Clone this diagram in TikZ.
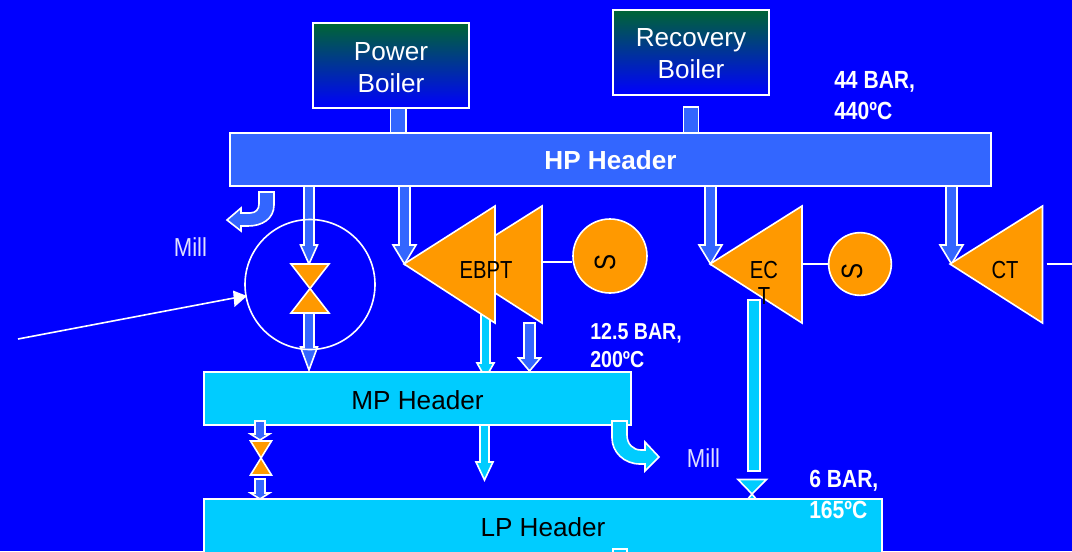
\documentclass[tikz,border=0pt]{standalone}
\usepackage{fontspec}
\setmainfont{Liberation Sans}
\newfontfamily\narrowbold[FakeStretch=0.85]{Liberation Sans Bold}
\newfontfamily\narrowreg[FakeStretch=0.85]{Liberation Sans}
\newfontfamily\turbfont[FakeStretch=0.82]{Liberation Sans}
\definecolor{bgblue}{HTML}{0000FF}
\definecolor{hpblue}{HTML}{3366FF}
\definecolor{mpcyan}{HTML}{00CCFF}
\definecolor{orangeF}{HTML}{FF9900}
\definecolor{boilgreen}{HTML}{006633}
\tikzset{
  wl/.style={draw=white,line width=1.2pt,line join=miter},
  headerbox/.style={draw=white,line width=1.5pt,rectangle,inner sep=0pt,font=\fontsize{19.6}{24}\selectfont,text=black},
  boilerbox/.style={draw=white,line width=1.5pt,rectangle,inner sep=0pt,align=center,top color=boilgreen,bottom color=bgblue,
     text=white,font=\fontsize{19.6}{24}\selectfont,minimum height=63.75pt},
  hpfill/.style={wl,fill=hpblue},
  mpfill/.style={wl,fill=mpcyan},
  valve/.style={wl,fill=orangeF},
  turb/.style={wl,fill=orangeF},
  gencircle/.style={wl,circle,fill=orangeF,inner sep=0pt},
  genletter/.style={text=black,inner sep=0pt,font=\turbfont\fontsize{22}{24}\selectfont},
  turblabel/.style={text=black,inner sep=0pt,font=\turbfont\fontsize{18.5}{19}\selectfont,align=center},
  condlabel/.style={text=white,inner sep=0pt,anchor=base west,font=\narrowbold\fontsize{18.6}{23}\selectfont},
  condsmall/.style={text=white,inner sep=0pt,anchor=base west,font=\narrowbold\fontsize{17.3}{23}\selectfont},
  milllabel/.style={text=white!88!bgblue,inner sep=0pt,font=\narrowreg\fontsize{19.5}{23}\selectfont},
}
% x, half shaft, top, head y, half head, tip y, style
\newcommand{\dnarrow}[7]{%
  \draw[#7] ({#1-#2},#3) -- ({#1+#2},#3) -- ({#1+#2},#4) -- ({#1+#5},#4) -- (#1,#6)
     -- ({#1-#5},#4) -- ({#1-#2},#4) -- cycle;}
\newcommand{\lowline}[2][1.5pt]{\raisebox{-#1}[\height][\depth]{#2}}
\begin{document}
\begin{tikzpicture}[x=0.75pt,y=-0.75pt]
\path[use as bounding box] (0,0) rectangle (1072,551);
\clip (0,0) rectangle (1072,551);
\fill[bgblue] (0,0) rectangle (1072,551);

% stubs under the headers
\draw[hpfill] (390.5,107) rectangle (406,134);
\draw[hpfill] (683.5,107) rectangle (698.5,134);

% steam arrows from HP header
\dnarrow{309}{5}{186}{245}{8.5}{264}{hpfill}
\dnarrow{404.5}{5.5}{186}{245}{11.5}{264}{hpfill}
\dnarrow{710.5}{5.5}{186}{245}{11.5}{264}{hpfill}
\dnarrow{951.5}{5.5}{186}{245}{11.5}{264}{hpfill}
\dnarrow{309}{5}{313}{347}{8.5}{370}{hpfill}

% mill bend from HP
\draw[hpfill] (259,192) -- (274,192) -- (274,205) .. controls (274,219) and (262,226) .. (248,226)
  -- (241,226) -- (241,231) -- (227,220) -- (241,208) -- (241,213) -- (250,213)
  .. controls (256,213) and (259,209) .. (259,204) -- cycle;

% exhaust arrows under the turbines
\dnarrow{485.5}{4.5}{300}{363}{8.5}{378}{mpfill}
\dnarrow{529.5}{5.5}{323}{358}{11}{371}{hpfill}
\draw[mpfill] (748,300) rectangle (760,471);

% small valve at LP header
\draw[mpfill] (738,479.5) -- (766.5,479.5) -- (752,494) -- cycle;
\draw[mpfill] (752,494) -- (762,506) -- (742,506) -- cycle;

% turbines
\coordinate (ebptA) at (450,264);
\coordinate (ebptB) at (542,206);
\coordinate (ebptC) at (542,323);
\coordinate (ebptShaft) at (542,262);
\draw[turb] (ebptA) -- (ebptB) -- (ebptC) -- cycle;
\draw[turb] (404,264) -- (495,206) -- (495,323) -- cycle;
\draw[turb] (710,264) -- (802,206) -- (802,323) -- cycle;
\draw[turb] (950,264) -- (1042.5,206) -- (1042.5,323) -- cycle;
\coordinate (ectShaft) at (802,264);
\coordinate (ctShaft) at (1046.5,264);
\coordinate (ctEnd) at (1072,264);

% generators
\node[gencircle,minimum size=55.5pt] (genA) at (610,256) {};
\node[gencircle,minimum size=47pt] (genB) at (860,264) {};
\node[genletter,rotate=90] (sA) at (605,262) {S};
\node[genletter,rotate=90] (sB) at (852,271.5) {S};
\draw[wl] (ebptShaft) -- (genA.west |- ebptShaft);
\draw[wl] (ectShaft) -- (genB.west);
\draw[wl] (ctShaft) -- (ctEnd);

% boilers
\node[boilerbox,minimum width=117.5pt] (power) at (391,65.5) {\lowline{Power}\\\lowline{Boiler}};
\node[boilerbox,minimum width=116.5pt] (recovery) at (691,52) {\lowline{Recovery}\\\lowline{Boiler}};

% headers
\node[headerbox,fill=hpblue,minimum width=570.5pt,minimum height=39.5pt,text=white,
      font=\bfseries\fontsize{19.6}{24}\selectfont] (hp) at (610.5,159.5) {\lowline[0.75pt]{HP Header}};
\node[headerbox,fill=mpcyan,minimum width=320pt,minimum height=39.5pt] (mp) at (417.5,398.5) {\lowline{MP Header}};
\node[headerbox,fill=mpcyan,minimum width=508.5pt,minimum height=42pt] (lp) at (543,527) {LP Header};
\draw[wl] (612.7,549) rectangle (626.7,560);

% mill bend from MP
\draw[mpfill] (612,421) -- (627,421) -- (627,435) .. controls (627,444) and (633,450) .. (641,450)
  -- (645,450) -- (645,442) -- (659,457) -- (645,471) -- (645,464) -- (640,464)
  .. controls (624,464) and (612,452) .. (612,438) -- cycle;

% MP to LP
\draw[wl,fill=mpcyan] (480,425) -- (489,425) -- (489,462) -- (493,462) -- (484.5,480) -- (476,462) -- (480,462) -- cycle;
\dnarrow{260}{5}{421}{434}{9.5}{440}{hpfill}
\dnarrow{260}{5}{479}{493}{9.5}{499}{hpfill}

% valves
\draw[valve] (291,264) -- (329,264) -- (291,313) -- (329,313) -- cycle;
\draw[valve] (250.5,441) -- (271.5,441) -- (250.5,475) -- (271.5,475) -- cycle;

% control circle and signal
\node[wl,circle,minimum size=97.5pt,inner sep=0pt] (ctrl) at (310,284.5) {};
\coordinate (sig) at (18,339);
\draw[draw=white,line width=1.2pt] (sig) -- (234,298);
\fill[white] (247,296) -- (233,290.5) -- (234.5,307) -- cycle;

% labels
\node[turblabel] (ebptL) at (486,270) {EBPT};
\node[turblabel] (ectL) at (764,283) {EC\\[0pt]T};
\node[turblabel] (ctL) at (1005,270) {CT};
\node[milllabel] (millA) at (190.5,247) {Mill};
\node[milllabel] (millB) at (703.5,458) {Mill};
\node[condlabel] (c1a) at (834,88) {44 BAR,};
\node[condlabel] (c1b) at (834,119) {440ºC};
\node[condsmall] (c2a) at (590,339) {12.5 BAR,};
\node[condsmall] (c2b) at (590,367) {200ºC};
\node[condlabel] (c3a) at (809,487) {6 BAR,};
\node[condlabel] (c3b) at (809,518) {165ºC};
\end{tikzpicture}
\end{document}
